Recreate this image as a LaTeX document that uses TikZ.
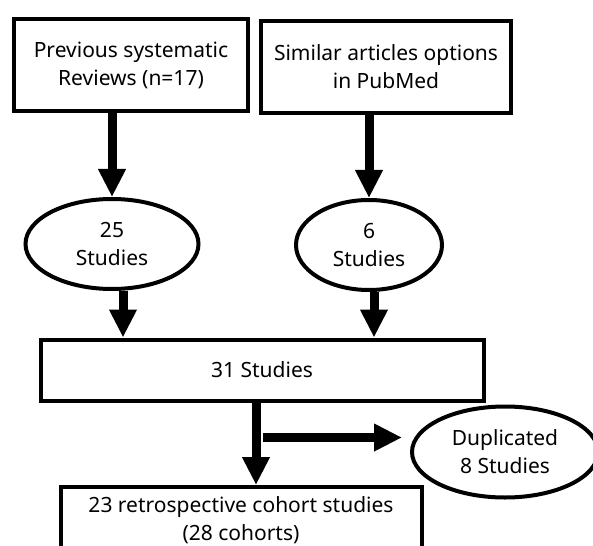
\documentclass[tikz,border=0pt]{standalone}
\usepackage{fontspec}
\setmainfont{Noto Sans}
\usetikzlibrary{shapes.geometric,arrows.meta}

\begin{document}
\begin{tikzpicture}[x=1pt, y=1pt,
	every node/.style={draw, line width=4pt, align=center, font=\fontsize{21}{28}\selectfont},
	box/.style={rectangle},
	oval/.style={ellipse},
	flow/.style={line width=9pt, -{Triangle[length=28pt, width=26pt]}}]
	\useasboundingbox (0,0) rectangle (593,-545);
	\clip (0,0) rectangle (593,-545);

	\node[box, minimum width=234pt, minimum height=92pt]	(prev)	at (131,-65) {Previous systematic\\Reviews (n=17)};
	\node[box, right of=prev, node distance=255pt, yshift=-2pt, minimum width=250pt, minimum height=92pt]	(sim)	{Similar articles options\\in PubMed};
	\node[oval, below of=prev, node distance=179pt, xshift=-19pt, minimum width=173pt, minimum height=90pt]	(s25)	{25\\Studies};
	\node[oval, below of=sim, node distance=178pt, xshift=-17pt, minimum width=146pt, minimum height=90pt]	(s6)	{6\\Studies};
	\node[box, below of=s25, node distance=126pt, xshift=150pt, minimum width=443pt, minimum height=61pt]	(s31)	{31 Studies};
	\node[oval, right of=s31, node distance=243pt, yshift=-82pt, minimum width=186pt, minimum height=91pt]	(dup)	{Duplicated\\8 Studies};
	\node[box, below of=s31, node distance=150pt, xshift=-21pt, minimum width=361pt, minimum height=66pt]	(incl)	{23 retrospective cohort studies\\(28 cohorts)};
	\coordinate (dupfrom) at ([xshift=1pt, yshift=-35pt]s31.south);

	\draw[flow] (prev.south -| s25.north) -- (s25.north);
	\draw[flow] (sim.south -| s6.north) -- (s6.north);
	\draw[flow] ([xshift=11pt]s25.south) -- ([xshift=11pt]s25.south |- s31.north);
	\draw[flow] ([xshift=5pt]s6.south) -- ([xshift=5pt]s6.south |- s31.north);
	\draw[flow] ([xshift=-6pt]s31.south) -- ([xshift=-6pt]s31.south |- incl.north);
	\draw[flow] (dupfrom) -- ([xshift=-8pt]dupfrom -| dup.west);
\end{tikzpicture}
\end{document}
